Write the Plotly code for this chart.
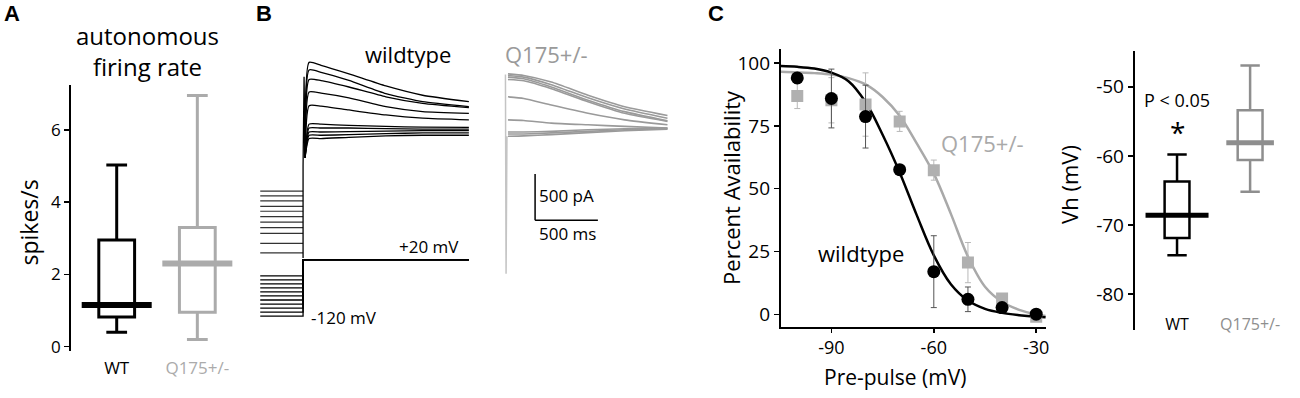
import plotly.graph_objects as go

# ---------------- data ----------------
# Panel A: autonomous firing rate (spikes/s), box statistics
a_groups = ["WT", "Q175+/-"]
a_q1 = [0.82, 0.95]
a_median = [1.15, 2.3]
a_q3 = [2.95, 3.3]
a_low = [0.4, 0.2]
a_high = [5.03, 6.95]
a_ticks = [0, 2, 4, 6]

# Panel B: current traces (pA) vs time (ms)
wt_t = [16, 48, 143, 365, 659, 952, 1320]
wt_sweeps = [
    [-106, 922, 890, 798, 667, 567, 497],
    [-106, 840, 815, 727, 585, 497, 443],
    [-106, 737, 725, 656, 550, 479, 433],
    [-106, 603, 590, 539, 443, 390, 372],
    [-106, 454, 450, 408, 354, 319, 301],
    [-106, 255, 255, 241, 230, 223, 220],
    [-106, 213, 213, 213, 206, 202, 202],
    [-106, 170, 170, 174, 180, 184, 184],
    [-106, 135, 135, 141, 152, 160, 160],
    [-106, 99, 99, 113, 128, 135, 135],
]
wt_transient_t = [0, 0, 8, 16]
wt_transient_i = [-1191, -191, 766, -106]
prepulse_t = [-341, 0]
prepulse_i = [-468, -521, -574, -633, -686, -745, -803, -862, -926, -1032, -1135]

q_t = [20, 146, 365, 657, 949, 1290]
q_sweeps = [
    [798, 780, 709, 567, 443, 348],
    [780, 763, 681, 539, 418, 319],
    [763, 745, 656, 514, 390, 291],
    [737, 723, 638, 497, 372, 284],
    [550, 532, 461, 372, 301, 248],
    [301, 295, 266, 248, 231, 213],
    [170, 170, 177, 195, 205, 213],
    [149, 149, 160, 177, 195, 205],
    [124, 128, 142, 163, 184, 199],
]
q_transient_t = [0, 5, 12]
q_transient_i = [790, -1362, 124]

# voltage protocol (mV)
pre_v = [-120, -110, -100, -90, -80, -70, -60, -50, -40, -30, -20]
test_v = 20
prot_t = [-341, 0, 0, 1320]

# scale bars
bar_pA = 500
bar_ms = 500

# Panel C: availability
c_v = [-100, -90, -80, -70, -60, -50, -40, -30]
wt_avail = [94.1, 85.9, 78.7, 57.6, 17.0, 6.0, 2.7, 0.1]
wt_err = [2, 11.7, 12.5, 1.5, 14.3, 4.9, 1.5, 1.5]
q_avail = [86.9, 85.2, 83.5, 76.8, 57.4, 20.6, 6.3, -0.9]
q_err = [5, 9, 12.6, 4, 4, 8, 2, 1]
fit_v = [-104.8, -100, -95, -90, -85, -80, -75, -70, -65, -60, -55, -50, -45, -40, -35, -30, -27.2]
wt_fit = [98.8, 98.5, 97.8, 96.2, 92.8, 84.5, 71.5, 56.5, 39.5, 23.5, 12, 5.5, 2.2, 0.6, -0.3, -0.9, -1.1]
q_fit = [96.5, 96.3, 96.0, 95.4, 94, 91.5, 86.5, 79, 68, 56, 40, 23, 11, 5, 1.8, 0, -0.6]
c_xticks = [-90, -60, -30]
c_xtext = ["-90", "-60", "-30"]
c_yticks = [0, 25, 50, 75, 100]

# Panel C right: Vh (mV)
vh_groups = ["WT", "Q175+/-"]
vh_q1 = [-71.9, -60.6]
vh_median = [-68.6, -58.1]
vh_q3 = [-63.7, -53.4]
vh_low = [-74.4, -65.2]
vh_high = [-59.8, -46.9]
vh_ticks = [-80, -70, -60, -50]
vh_ticktext = ["-80", "-70", "-60", "-50"]

# ---------------- helpers ----------------
W, H = 1300, 398
FONT = "Open Sans"


def fx(p):
    return p / W


def fy(p):
    return 1 - p / H


GRAY_A = "#ababab"
GRAY_B = "#9a9a9a"
GRAY_C = "#a9a9a9"
GRAY_VH = "#8e8e8e"

fig = go.Figure()

# ---------------- Panel A ----------------
for g, q1, md, q3, lo, hi, col in zip(a_groups, a_q1, a_median, a_q3, a_low, a_high, ["black", GRAY_A]):
    fig.add_trace(go.Box(x=[g], q1=[q1], median=[md], q3=[q3], lowerfence=[lo], upperfence=[hi],
                         width=0.444, whiskerwidth=0.58, line=dict(color=col, width=3),
                         fillcolor="rgba(0,0,0,0)", boxpoints=False, hoverinfo="skip",
                         showlegend=False, xaxis="x", yaxis="y"))
    fig.add_trace(go.Scatter(x=[g], y=[md], mode="markers",
                             marker=dict(symbol="line-ew", size=50, color=col, line=dict(color=col, width=6)),
                             showlegend=False, hoverinfo="skip", xaxis="x", yaxis="y"))

# ---------------- Panel B ----------------
for v in prepulse_i:
    fig.add_trace(go.Scatter(x=prepulse_t, y=[v, v], mode="lines", line=dict(color="#333333", width=1.2),
                             showlegend=False, hoverinfo="skip", xaxis="x2", yaxis="y2"))
fig.add_trace(go.Scatter(x=wt_transient_t, y=wt_transient_i, mode="lines", line=dict(color="black", width=1.3),
                         showlegend=False, hoverinfo="skip", xaxis="x2", yaxis="y2"))
for s in wt_sweeps:
    fig.add_trace(go.Scatter(x=wt_t, y=s, mode="lines", line=dict(color="black", width=1.3, shape="spline", smoothing=0.5),
                             showlegend=False, hoverinfo="skip", xaxis="x2", yaxis="y2"))
for pv in pre_v:
    fig.add_trace(go.Scatter(x=prot_t, y=[pv, pv, test_v, test_v], mode="lines", line=dict(color="black", width=1.3),
                             showlegend=False, hoverinfo="skip", xaxis="x2", yaxis="y4"))

fig.add_trace(go.Scatter(x=q_transient_t, y=q_transient_i, mode="lines", line=dict(color="#c4c4c4", width=1.5),
                         showlegend=False, hoverinfo="skip", xaxis="x3", yaxis="y3"))
for s in q_sweeps:
    fig.add_trace(go.Scatter(x=q_t, y=s, mode="lines", line=dict(color=GRAY_B, width=1.6, shape="spline", smoothing=0.5),
                             showlegend=False, hoverinfo="skip", xaxis="x3", yaxis="y3"))

# scale bars (data coords of the Q175 current axes)
sb_t0, sb_i0 = 236, -784
fig.add_shape(type="line", xref="x3", yref="y3", x0=sb_t0, x1=sb_t0, y0=sb_i0, y1=sb_i0 + bar_pA,
              line=dict(color="black", width=1.5))
fig.add_shape(type="line", xref="x3", yref="y3", x0=sb_t0, x1=sb_t0 + bar_ms, y0=sb_i0, y1=sb_i0,
              line=dict(color="black", width=1.5))

# ---------------- Panel C ----------------
fig.add_trace(go.Scatter(x=fit_v, y=q_fit, mode="lines", line=dict(color=GRAY_C, width=2.5, shape="spline"),
                         showlegend=False, hoverinfo="skip", xaxis="x4", yaxis="y5"))
fig.add_trace(go.Scatter(x=fit_v, y=wt_fit, mode="lines", line=dict(color="black", width=2.5, shape="spline"),
                         showlegend=False, hoverinfo="skip", xaxis="x4", yaxis="y5"))
fig.add_trace(go.Scatter(x=c_v, y=q_avail, mode="markers",
                         marker=dict(symbol="square", size=12, color="#b0b0b0"),
                         error_y=dict(type="data", array=q_err, thickness=1, width=3, color="#b8b8b8"),
                         showlegend=False, hoverinfo="skip", xaxis="x4", yaxis="y5"))
fig.add_trace(go.Scatter(x=c_v, y=wt_avail, mode="markers",
                         marker=dict(symbol="circle", size=13, color="black"),
                         error_y=dict(type="data", array=wt_err, thickness=1, width=3, color="#555555"),
                         showlegend=False, hoverinfo="skip", xaxis="x4", yaxis="y5"))

# ---------------- Panel C right (Vh) ----------------
for g, q1, md, q3, lo, hi, col, mw in zip(vh_groups, vh_q1, vh_median, vh_q3, vh_low, vh_high,
                                         ["black", GRAY_VH], [45, 34]):
    fig.add_trace(go.Box(x=[g], q1=[q1], median=[md], q3=[q3], lowerfence=[lo], upperfence=[hi],
                         width=0.34, whiskerwidth=0.78, line=dict(color=col, width=2.5),
                         fillcolor="rgba(0,0,0,0)", boxpoints=False, hoverinfo="skip",
                         showlegend=False, xaxis="x5", yaxis="y6"))
    fig.add_trace(go.Scatter(x=[g], y=[md], mode="markers",
                             marker=dict(symbol="line-ew", size=mw, color=col, line=dict(color=col, width=5)),
                             showlegend=False, hoverinfo="skip", xaxis="x5", yaxis="y6"))

# ---------------- layout ----------------
hidden = dict(visible=False, showgrid=False, zeroline=False)
axis_common = dict(showgrid=False, zeroline=False, linecolor="black", tickcolor="black",
                   ticks="outside", ticklen=5, tickfont=dict(family=FONT, size=19, color="black"))

fig.update_layout(
    width=W, height=H, margin=dict(l=0, r=0, t=0, b=0),
    paper_bgcolor="white", plot_bgcolor="rgba(0,0,0,0)",
    font=dict(family=FONT, color="black"), showlegend=False, boxmode="overlay",
    # Panel A
    xaxis=dict(domain=[fx(75), fx(240)], range=[-0.52, 1.52], type="category",
               categoryorder="array", categoryarray=a_groups,
               anchor="free", position=fy(361), showline=False, ticks="", showgrid=False, zeroline=False,
               tickmode="array", tickvals=a_groups,
               ticktext=["WT", '<span style="color:%s">Q175+/-</span>' % GRAY_A],
               tickfont=dict(family=FONT, size=17, color="black")),
    yaxis=dict(domain=[fy(356.7), fy(86)], range=[-0.13, 7.25], anchor="free", position=fx(69.3),
               showline=True, linewidth=1.5, tickwidth=1.5, tickvals=a_ticks,
               **{**axis_common, "tickfont": dict(family=FONT, size=17, color="black")}),
    # Panel B
    xaxis2=dict(domain=[fx(255), fx(480)], range=[(255 - 304) / 0.126, (480 - 304) / 0.126], anchor="y2", **hidden),
    yaxis2=dict(domain=[fy(290), fy(55)], range=[(150 - 290) / 0.094, (150 - 55) / 0.094], anchor="x2", **hidden),
    xaxis3=dict(domain=[fx(495), fx(680)], range=[(495 - 507) / 0.126, (680 - 507) / 0.126], anchor="y3", **hidden),
    yaxis3=dict(domain=[fy(290), fy(55)], range=[(150 - 290) / 0.094, (150 - 55) / 0.094], anchor="x3", **hidden),
    yaxis4=dict(domain=[fy(330), fy(255)], range=[-120 - (330 - 321) / 0.41, -120 + (321 - 255) / 0.41],
                anchor="x2", **hidden),
    # Panel C
    xaxis4=dict(domain=[fx(783.3), fx(1049)], range=[-104.8, -27.2], anchor="y5",
                showline=True, linewidth=2, tickwidth=1.5, tickvals=c_xticks, ticktext=c_xtext,
                **{**axis_common, "ticklen": 4, "tickfont": dict(family=FONT, size=18, color="black")}),
    yaxis5=dict(domain=[fy(331.7), fy(50)], range=[-4.9, 105.5], anchor="x4",
                showline=True, linewidth=2, tickwidth=1.5, tickvals=c_yticks, **axis_common),
    # Panel C right
    xaxis5=dict(domain=[fx(1138.3), fx(1300)], range=[-0.578, 1.628], type="category",
                categoryorder="array", categoryarray=vh_groups,
                anchor="free", position=fy(318), showline=False, ticks="", showgrid=False, zeroline=False,
                tickmode="array", tickvals=vh_groups,
                ticktext=["WT", '<span style="color:%s">Q175+/-</span>' % GRAY_VH],
                tickfont=dict(family=FONT, size=16, color="black")),
    yaxis6=dict(domain=[fy(335), fy(51.7)], range=[-85.2, -44.8], anchor="x5",
                showline=True, linewidth=2, tickwidth=1.5, tickvals=vh_ticks, ticktext=vh_ticktext, **axis_common),
)


def ann(text, x, y, size, color="black", bold=False, angle=0, family=FONT):
    fig.add_annotation(text=("<b>%s</b>" % text) if bold else text, x=fx(x), y=fy(y), xref="paper", yref="paper",
                       showarrow=False, xanchor="center", yanchor="middle", textangle=angle,
                       borderpad=0, font=dict(family=family, size=size, color=color))


ann("A", 12, 14, 22, bold=True, family="Liberation Sans")
ann("B", 265, 14, 22, bold=True, family="Liberation Sans")
ann("C", 718, 14, 22, bold=True, family="Liberation Sans")
ann("autonomous<br>firing rate", 148, 52, 24)
ann("spikes/s", 29, 226, 23, angle=-90)
ann("wildtype", 409, 55, 22)
ann("Q175+/-", 548, 55, 22, color=GRAY_B)
ann("+20 mV", 430, 250, 17)
ann("-120 mV", 345, 322, 17)
ann("500 pA", 568, 198, 17)
ann("500 ms", 569, 237, 17)
ann("Percent Availability", 733, 190, 22, angle=-90)
ann("Pre-pulse (mV)", 898, 383, 21)
ann("Q175+/-", 986, 145, 22, color=GRAY_C)
ann("wildtype", 864, 257, 22)
ann("Vh (mV)", 1072, 187, 22, angle=-90)
ann("P &lt; 0.05", 1181, 102, 18)
ann("*", 1181, 134, 28)

fig.write_html("out.html",
               config={"displayModeBar": False, "staticPlot": True},
               post_script="document.body.style.margin='0px';document.body.style.overflow='hidden';")
